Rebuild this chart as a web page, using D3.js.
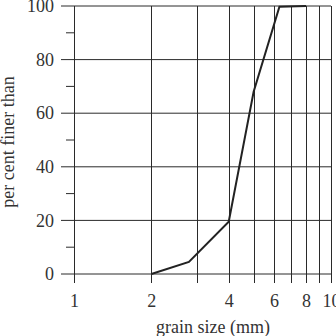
<!DOCTYPE html>
<html>
<head>
<meta charset="utf-8">
<script src="https://cdn.jsdelivr.net/npm/d3@7"></script>
<style>
  body { margin: 0; background: #fff; }
  svg text { font-family: "Liberation Serif", "DejaVu Serif", serif; fill: #333; }
</style>
</head>
<body>
<div class="chart"></div>
<script>
// grading curve: sieve sizes (mm) and percent passing
const grainSizes = [2, 2.8, 4, 5, 6.3, 8]
const percentFiner = [0, 4.5, 19.5, 68, 99.7, 100]
const xGridValues = [1, 2, 3, 4, 5, 6, 7, 8, 9, 10]
const xTickLabels = [1, 2, 4, 6, 8, 10]
const yTickLabels = [0, 20, 40, 60, 80, 100]
const yMinorTicks = [10, 30, 50, 70, 90]

const width = 336
const height = 336

const svg = d3.select('.chart')
    .append('svg')
    .attr('width', width)
    .attr('height', height)

const xScale = d3.scaleLog().domain([1, 10]).range([74, 331])
const yScale = d3.scaleLinear().domain([0, 100]).range([274, 6])

const ink = '#2a2a2a'

// vertical grid lines (log spaced)
svg.append('g')
    .selectAll('line')
    .data(xGridValues)
    .enter()
    .append('line')
    .attr('x1', d => Math.round(xScale(d)) + 0.5)
    .attr('x2', d => Math.round(xScale(d)) + 0.5)
    .attr('y1', yScale(100))
    .attr('y2', 283)
    .attr('stroke', ink)
    .attr('stroke-width', 1)

// horizontal grid lines
svg.append('g')
    .selectAll('line')
    .data(yTickLabels)
    .enter()
    .append('line')
    .attr('x1', 61)
    .attr('x2', 331)
    .attr('y1', d => yScale(d))
    .attr('y2', d => yScale(d))
    .attr('stroke', ink)
    .attr('stroke-width', 1)

// minor ticks on left
svg.append('g')
    .selectAll('line')
    .data(yMinorTicks)
    .enter()
    .append('line')
    .attr('x1', 66)
    .attr('x2', 74)
    .attr('y1', d => yScale(d))
    .attr('y2', d => yScale(d))
    .attr('stroke', ink)
    .attr('stroke-width', 1)

// tick labels via axes
const xAxis = d3.axisBottom(xScale)
    .tickValues(xTickLabels)
    .tickFormat(d3.format('d'))
    .tickSize(0)
    .tickPadding(0)

const yAxis = d3.axisLeft(yScale)
    .tickValues(yTickLabels)
    .tickSize(0)
    .tickPadding(0)

const gx = svg.append('g')
    .attr('transform', 'translate(0,294)')
    .call(xAxis)
gx.select('.domain').remove()
gx.selectAll('text')
    .attr('font-size', 18)
    .attr('font-family', '"Liberation Serif", serif')
    .attr('fill', '#333')

const gy = svg.append('g')
    .attr('transform', 'translate(54,0)')
    .call(yAxis)
gy.select('.domain').remove()
gy.selectAll('text')
    .attr('font-size', 18)
    .attr('font-family', '"Liberation Serif", serif')
    .attr('fill', '#333')

// curve
const line = d3.line()
    .x((d, i) => xScale(grainSizes[i]))
    .y(d => yScale(d))

svg.append('path')
    .datum(percentFiner)
    .attr('d', line)
    .attr('fill', 'none')
    .attr('stroke', '#222')
    .attr('stroke-width', 2)
    .attr('stroke-linejoin', 'miter')

// axis titles
svg.append('text')
    .attr('x', 213)
    .attr('y', 333)
    .attr('text-anchor', 'middle')
    .attr('font-size', 18)
    .text('grain size (mm)')

svg.append('text')
    .attr('transform', 'translate(14,142) rotate(-90)')
    .attr('text-anchor', 'middle')
    .attr('font-size', 18)
    .text('per cent finer than')
</script>
</body>
</html>
